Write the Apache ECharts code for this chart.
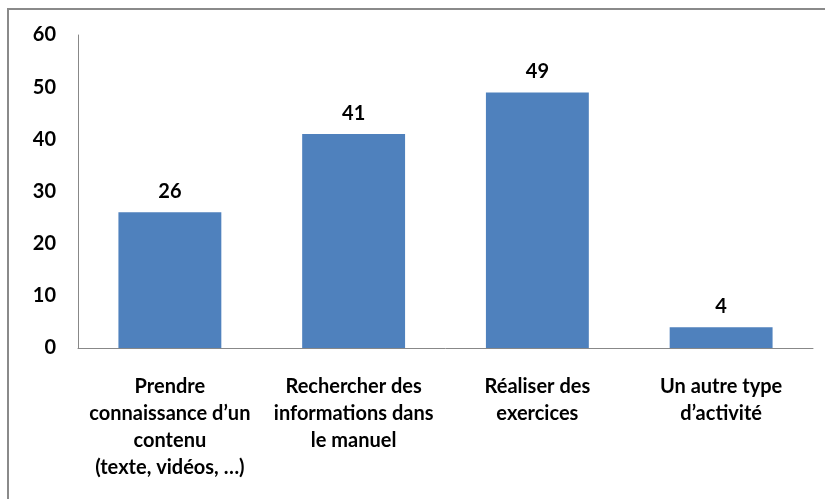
<!DOCTYPE html>
<html>
<head>
<meta charset="UTF-8">
<title>Activités</title>
<script src="https://cdn.jsdelivr.net/npm/echarts@6/dist/echarts.min.js"></script>
<style>
    body{ margin:0; background:#fff; }
    #main{ width:825px; height:499px; }
</style>
</head>
<body>
<div id="main"></div>
<script type="text/javascript">
var categories = [
    'Prendre\nconnaissance d\u2019un\ncontenu\n(texte, vidéos, \u2026)',
    'Rechercher des\ninformations dans\nle manuel',
    'Réaliser des\nexercices',
    'Un autre type\nd\u2019activité'
];
var values = [26, 41, 49, 4];
var yTicks = { min: 0, max: 60, interval: 10 };

var myChart = echarts.init(document.getElementById('main'));
var font = 'Lato, "Open Sans", sans-serif';

var option = {
    backgroundColor: '#fff',
    animation: false,
    graphic: [{
        type: 'rect',
        shape: { x: 8, y: 9, width: 840, height: 520 },
        style: { fill: 'none', stroke: '#8a8a8a', lineWidth: 2 }
    }],
    grid: { left: 78, right: 12, top: 35, bottom: 151 },
    xAxis: {
        type: 'category',
        data: categories,
        axisLine: { lineStyle: { color: '#888', width: 1 } },
        axisTick: { show: false },
        axisLabel: {
            interval: 0,
            margin: 25,
            color: '#000',
            fontFamily: font,
            fontWeight: 'bold',
            fontSize: 20,
            lineHeight: 27
        }
    },
    yAxis: {
        type: 'value',
        min: yTicks.min,
        max: yTicks.max,
        interval: yTicks.interval,
        axisLine: { show: true, lineStyle: { color: '#888', width: 1 } },
        axisTick: { show: false },
        splitLine: { show: false },
        axisLabel: {
            margin: 22,
            color: '#000',
            fontFamily: font,
            fontWeight: 'bold',
            fontSize: 20
        }
    },
    series: [{
        type: 'bar',
        data: values,
        barWidth: '56%',
        itemStyle: { color: '#4F81BD' },
        label: {
            show: true,
            position: 'top',
            distance: 11,
            color: '#000',
            fontFamily: font,
            fontWeight: 'bold',
            fontSize: 20
        }
    }]
};
myChart.setOption(option);
</script>
</body>
</html>
